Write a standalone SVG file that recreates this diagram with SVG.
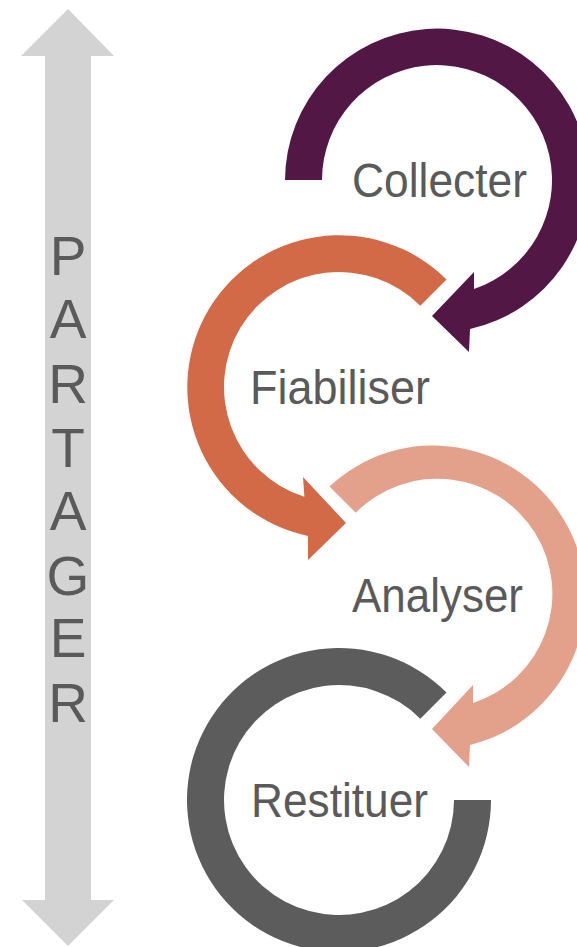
<svg xmlns="http://www.w3.org/2000/svg" width="577" height="947" viewBox="0 0 577 947">
<style>
.lbl{font-family:"Liberation Sans",Arial,sans-serif;font-size:49px;fill:#5a5a5a}
.vert{font-family:"Liberation Sans",Arial,sans-serif;font-size:55px;fill:#5a5a5a;text-anchor:middle}
</style>
<rect width="577" height="947" fill="#ffffff"/>
<g id="partager">
<path d="M68,9 L114,56 L91,56 L91,900 L114,900 L68,946 L22,900 L45,900 L45,56 L21,56 Z" fill="#d3d3d3"/>
<text class="vert" x="68" y="275">P</text>
<text class="vert" x="68" y="338">A</text>
<text class="vert" x="68" y="403">R</text>
<text class="vert" x="68" y="467">T</text>
<text class="vert" x="68" y="530">A</text>
<text class="vert" x="68" y="595">G</text>
<text class="vert" x="68" y="657">E</text>
<text class="vert" x="68" y="722">R</text>
</g>
<g id="connectors">
<path id="arc-collecter" d="M285,180 A152,152 0 1 1 470,329 L469,352 L432,316 L474,272 L474,289 A115,115 0 1 0 322,180 Z" fill="#521745"/>
<path id="arc-fiabiliser" d="M446.5,279.5 A152,152 0 1 0 308,536 L308,560 L346,523 L303,477 L304.4,496.7 A115,115 0 1 1 420.3,305.7 Z" fill="#d26a48"/>
<path id="arc-analyser" d="M329.5,486.5 A152,152 0 1 1 470,745 L469,767 L432,729 L473,685 L473,703 A115,115 0 1 0 355.7,512.7 Z" fill="#e3a08b"/>
<path id="arc-restituer" d="M446.5,692.5 A152,152 0 1 0 491,800 L454,800 A115,115 0 1 1 420.3,718.7 Z" fill="#5c5c5c"/>
</g>
<g id="collecter"><text class="lbl" x="352" y="197" textLength="175" lengthAdjust="spacingAndGlyphs">Collecter</text></g>
<g id="fiabiliser"><text class="lbl" x="250" y="404" textLength="180" lengthAdjust="spacingAndGlyphs">Fiabiliser</text></g>
<g id="analyser"><text class="lbl" x="352" y="612" textLength="171" lengthAdjust="spacingAndGlyphs">Analyser</text></g>
<g id="restituer"><text class="lbl" x="251" y="817" textLength="177" lengthAdjust="spacingAndGlyphs">Restituer</text></g>
</svg>
